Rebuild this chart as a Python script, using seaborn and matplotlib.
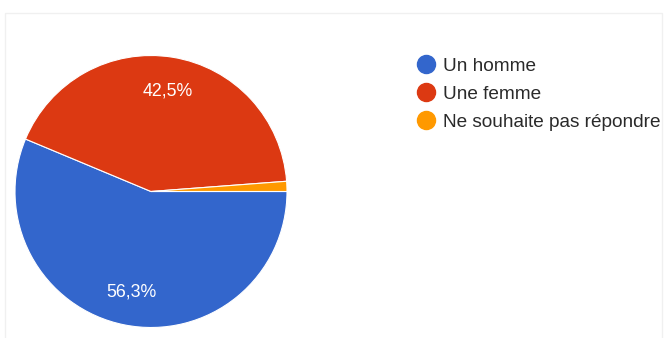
import matplotlib
matplotlib.use("Agg")
import matplotlib.pyplot as plt
from matplotlib.lines import Line2D
from matplotlib.patches import Rectangle
import seaborn as sns

# Survey answers: gender of respondents
categories = ["Un homme", "Une femme", "Ne souhaite pas répondre"]
shares = [56.3, 42.5, 1.2]
colors = ["#3366CC", "#DC3912", "#FF9900"]

sns.set_theme(style="white")
plt.rcParams["font.family"] = ["Liberation Sans", "DejaVu Sans"]

W, H = 664, 338
fig = plt.figure(figsize=(W / 100, H / 100), dpi=100)
fig.patch.set_facecolor("white")

# faint card outline
fig.add_artist(Rectangle((5 / W, -0.05), (657) / W, (H - 13) / H + 0.05,
                         transform=fig.transFigure, fill=False,
                         edgecolor="#f0f0f0", linewidth=1.0))

cx, cy, r = 151, 191.5, 136
ax = fig.add_axes([(cx - r) / W, (H - cy - r) / H, 2 * r / W, 2 * r / H])

def fmt(p):
    return f"{p:.1f}%".replace(".", ",") if p > 5 else ""

wedges, _, autotexts = ax.pie(
    shares, colors=colors, startangle=0, counterclock=False,
    autopct=fmt, pctdistance=0.75, radius=1.0,
    wedgeprops=dict(edgecolor="white", linewidth=0.8),
    textprops=dict(color="white", fontsize=12.8),
)
ax.set_xlim(-1, 1)
ax.set_ylim(-1, 1)
ax.set_aspect("equal")
ax.axis("off")

handles = [Line2D([0], [0], marker="o", linestyle="none", markersize=13,
                  markerfacecolor=c, markeredgecolor=c) for c in colors]
fig.legend(handles, categories, loc="upper left",
           bbox_to_anchor=(416.5 / W, (H - 57.5) / H), frameon=False,
           fontsize=13.7, labelspacing=0.56, handlelength=1.0,
           handletextpad=0.38, borderpad=0, borderaxespad=0,
           labelcolor="#2a2a2a")

fig.savefig("out.png", dpi=100, facecolor="white")
